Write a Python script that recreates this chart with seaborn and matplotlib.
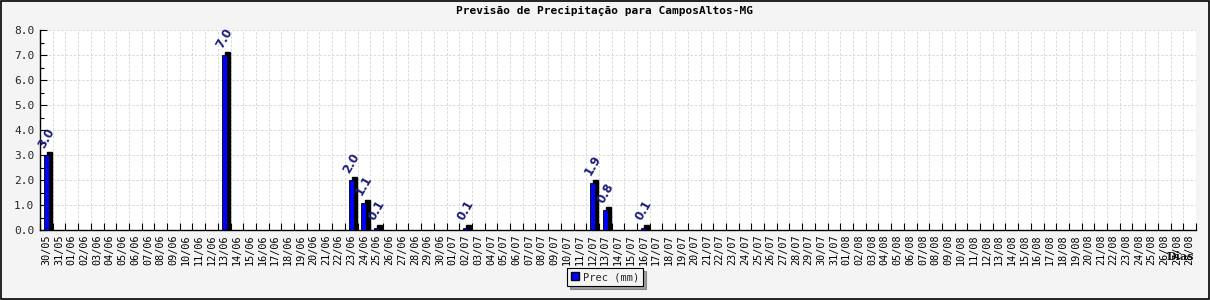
import matplotlib
matplotlib.use("Agg")
import matplotlib.pyplot as plt
import seaborn as sns
import pandas as pd
import numpy as np
from matplotlib.patches import Rectangle, Patch
from matplotlib.ticker import MultipleLocator, FixedLocator

# ---- data ----
dias = pd.date_range("2024-05-30", "2024-08-28", freq="D").strftime("%d/%m").tolist()
prec = [0.0] * len(dias)
chuva = {"30/05": 3.0, "13/06": 7.0, "23/06": 2.0, "24/06": 1.1, "25/06": 0.1,
         "02/07": 0.1, "12/07": 1.9, "13/07": 0.8, "16/07": 0.1}
for k, v in chuva.items():
    prec[dias.index(k)] = v
titulo = "Previsão de Precipitação para CamposAltos-MG"
serie = "Prec (mm)"

df = pd.DataFrame({"dia": dias, "prec": prec})

sns.set_style("white")
plt.rcParams["font.family"] = ["DejaVu Sans Mono", "DejaVu Sans"]

bg = "#f4f4f4"
fig = plt.figure(figsize=(12.1, 3.0), dpi=100, facecolor=bg)
ax = fig.add_axes([40 / 1210, 1 - 230 / 300, (1196 - 40) / 1210, 200 / 300])
ax.set_facecolor("white")

sns.barplot(data=df, x="dia", y="prec", color="#0000ff", width=0.4,
            edgecolor="black", linewidth=0.6, ax=ax, zorder=3, saturation=1)

n = len(dias)
# 3D-like shadow and value labels
for p in list(ax.patches):
    h = p.get_height()
    if h <= 0:
        continue
    x0 = p.get_x()
    w = p.get_width()
    sh = Rectangle((x0 + 0.25, 0), w, h + 0.12, facecolor="black",
                   edgecolor="black", zorder=2.5)
    ax.add_patch(sh)
    ax.text(x0 + w / 2, h + 0.68, f"{h:.1f}", rotation=60, ha="center",
            va="center", color="#1c1c7a", fontsize=8.5, fontweight="bold",
            family="DejaVu Sans", rotation_mode="anchor", zorder=5)

ax.set_xlim(-0.5, n - 0.5)
ax.set_ylim(0, 8)

# x ticks: marks at boundaries, labels at centers
ax.xaxis.set_major_locator(FixedLocator(np.arange(-0.5, n, 1.0)))
ax.xaxis.set_minor_locator(FixedLocator(np.arange(0, n, 1.0)))
ax.set_xticklabels([""] * len(np.arange(-0.5, n, 1.0)))
ax.xaxis.set_minor_formatter(matplotlib.ticker.FixedFormatter(dias))
ax.tick_params(axis="x", which="major", direction="in", length=5, width=0.8,
               bottom=True, top=False, color="black")
ax.tick_params(axis="x", which="minor", length=0, labelsize=7.3, rotation=90, pad=3,
               labelcolor="black")

ax.yaxis.set_major_locator(MultipleLocator(1.0))
ax.yaxis.set_minor_locator(MultipleLocator(0.5))
ax.yaxis.set_major_formatter(matplotlib.ticker.FormatStrFormatter("%.1f"))
ax.tick_params(axis="y", which="major", direction="in", length=5, width=0.8,
               left=True, labelsize=8, pad=4, color="black")
ax.tick_params(axis="y", which="minor", direction="in", length=3, width=0.8,
               left=True, color="black")

ax.grid(True, which="major", axis="both", color="#d4d4d4", linestyle=(0, (3, 2)),
        linewidth=0.6, zorder=0)
ax.set_axisbelow(True)

for s in ["top", "right"]:
    ax.spines[s].set_visible(False)
for s in ["left", "bottom"]:
    ax.spines[s].set_color("black")
    ax.spines[s].set_linewidth(1.0)

ax.set_xlabel("")
ax.set_ylabel("")

fig.text(605 / 1210, 1 - 11 / 300, titulo, ha="center", va="center",
         fontsize=8, fontweight="bold", color="black")
fig.text(1194 / 1210, 1 - 257 / 300, "Dias", ha="right", va="center",
         fontsize=8, fontweight="bold", color="#111111", family="DejaVu Serif")

leg = fig.legend(handles=[Patch(facecolor="#0000ff", edgecolor="black", label=serie)],
                 loc="center", bbox_to_anchor=(605 / 1210, 1 - 277 / 300),
                 frameon=True, fancybox=False, shadow=True, fontsize=7.5,
                 handlelength=0.8, handleheight=0.8, handletextpad=0.3,
                 borderpad=0.4, edgecolor="black")
leg.get_frame().set_facecolor(bg)
leg.get_frame().set_linewidth(0.8)

fig.patches.append(Rectangle((0.0008, 0.002), 0.998, 0.995, transform=fig.transFigure,
                             fill=False, edgecolor="black", linewidth=1.2))

fig.savefig("out.png", dpi=100, facecolor=bg)
